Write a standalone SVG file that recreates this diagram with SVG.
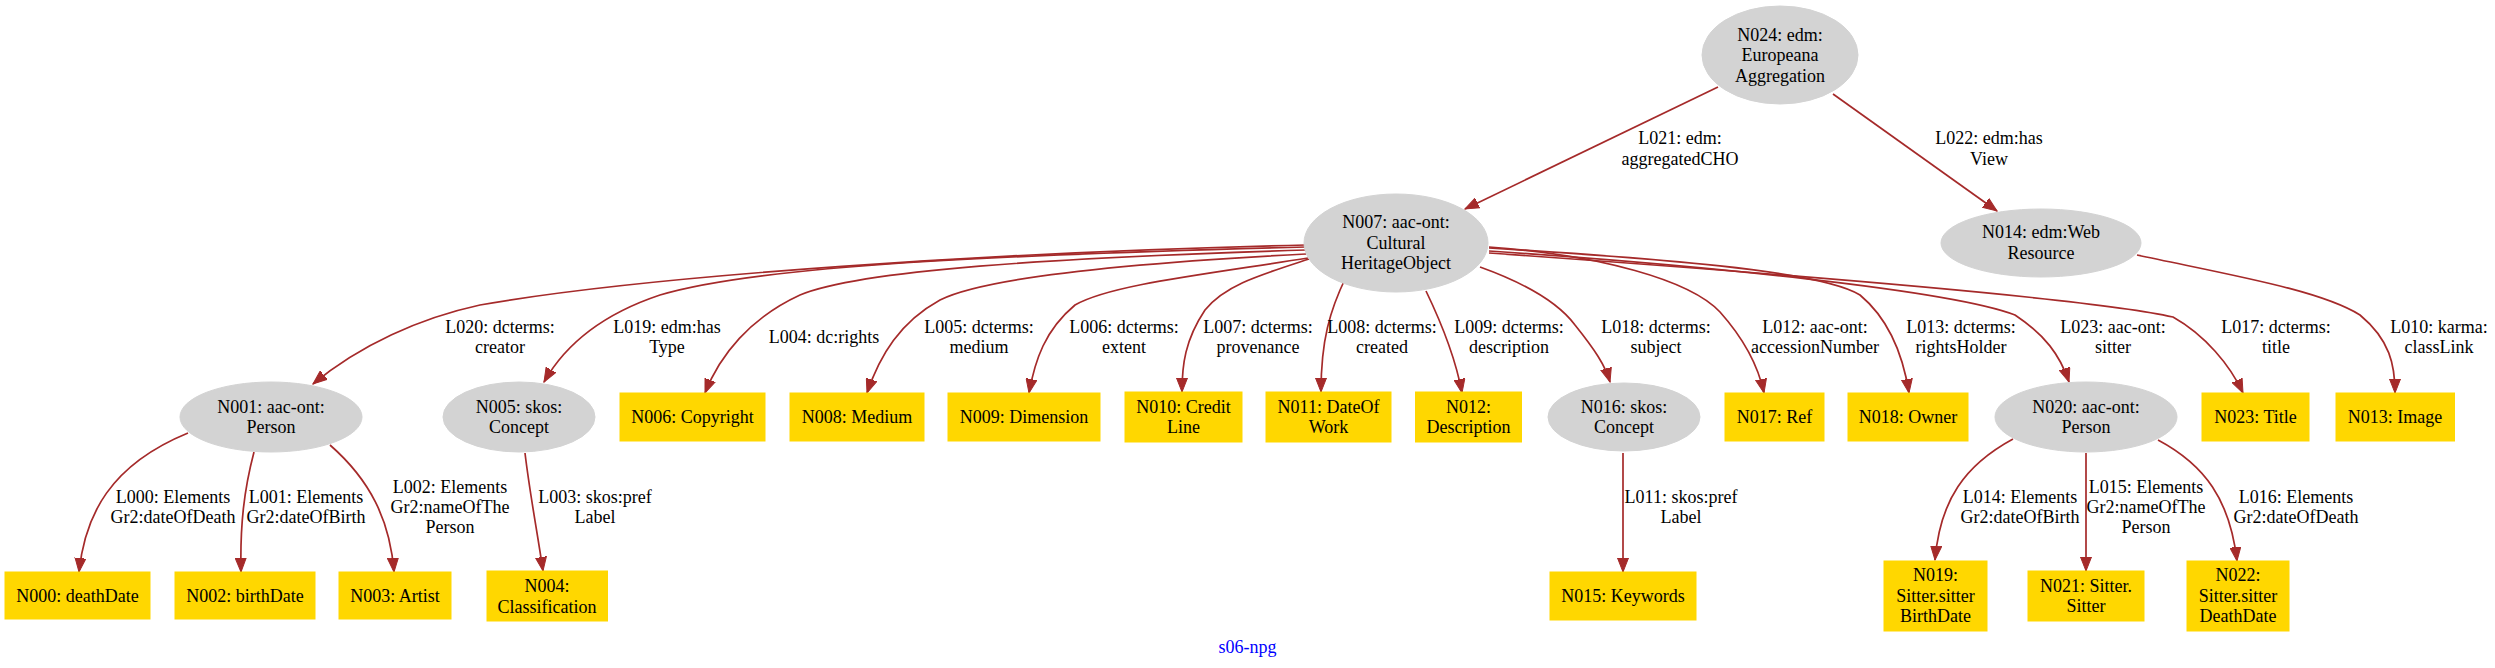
<svg xmlns="http://www.w3.org/2000/svg" width="2495" height="668" viewBox="0 0 2495 668">
<style>
text{font-family:"Liberation Serif","Times New Roman",serif;font-size:18px;fill:#000;text-anchor:middle}
.ell{fill:#d3d3d3;stroke:#d3d3d3}
.box{fill:#ffd700;stroke:#ffd700}
.e{fill:none;stroke:#a52a2a;stroke-width:1.7;marker-end:url(#arr)}
.cap{fill:#0000ff}
</style>
<defs>
<marker id="arr" markerUnits="userSpaceOnUse" markerWidth="15" markerHeight="12" refX="14" refY="6" orient="auto">
<path d="M0,0.5 L14,6 L0,11.5 z" fill="#a52a2a" stroke="#a52a2a" stroke-width="1"/>
</marker>
</defs>
<rect width="2495" height="668" fill="#fff"/>
<g id="connectors">
<path class="e" d="M1718,87 L1465,209"/>
<path class="e" d="M1833,94 L1997,211"/>
<path class="e" d="M1306,245 C1000,252 650,275 480,305 C420,318 360,345 313,384"/>
<path class="e" d="M1306,247 C1000,255 760,265 660,295 C600,315 565,345 544,382"/>
<path class="e" d="M1306,250 C1050,258 860,270 800,295 C750,318 720,355 705,393"/>
<path class="e" d="M1306,254 C1150,262 990,275 940,300 C900,322 880,355 867,393"/>
<path class="e" d="M1308,258 C1200,275 1110,285 1075,305 C1045,330 1035,360 1029,393"/>
<path class="e" d="M1309,259 C1260,275 1225,285 1205,310 C1185,340 1182,365 1182,392"/>
<path class="e" d="M1346,277 C1330,310 1321,340 1321,392"/>
<path class="e" d="M1426,291 C1440,320 1455,355 1462,393"/>
<path class="e" d="M1480,267 C1530,285 1560,305 1575,325 C1595,350 1605,365 1610,382"/>
<path class="e" d="M1489,247 C1600,255 1690,280 1720,312 C1745,340 1758,365 1764,393"/>
<path class="e" d="M1489,248 C1650,258 1820,270 1860,295 C1890,320 1903,355 1909,393"/>
<path class="e" d="M1489,251 C1700,265 1950,290 2015,315 C2045,335 2060,355 2069,382"/>
<path class="e" d="M1489,253 C1800,275 2100,300 2173,317 C2205,335 2230,365 2243,393"/>
<path class="e" d="M2137,255 C2230,275 2320,290 2360,315 C2390,340 2395,365 2395,393"/>
<path class="e" d="M188,433 C110,465 85,515 79,572"/>
<path class="e" d="M254,452 C244,490 240,525 241,572"/>
<path class="e" d="M330,445 C370,480 390,520 394,572"/>
<path class="e" d="M525,453 C530,495 537,530 543,571"/>
<path class="e" d="M1623,453 L1623,572"/>
<path class="e" d="M2013,439 C1965,465 1940,500 1935,560"/>
<path class="e" d="M2086,453 L2086,571"/>
<path class="e" d="M2158,440 C2205,465 2230,500 2237,561"/>
<text x="1680" y="144">L021: edm:</text><text x="1680" y="165">aggregatedCHO</text>
<text x="1989" y="144">L022: edm:has</text><text x="1989" y="165">View</text>
<text x="500" y="333">L020: dcterms:</text><text x="500" y="353">creator</text>
<text x="667" y="333">L019: edm:has</text><text x="667" y="353">Type</text>
<text x="824" y="343">L004: dc:rights</text>
<text x="979" y="333">L005: dcterms:</text><text x="979" y="353">medium</text>
<text x="1124" y="333">L006: dcterms:</text><text x="1124" y="353">extent</text>
<text x="1258" y="333">L007: dcterms:</text><text x="1258" y="353">provenance</text>
<text x="1382" y="333">L008: dcterms:</text><text x="1382" y="353">created</text>
<text x="1509" y="333">L009: dcterms:</text><text x="1509" y="353">description</text>
<text x="1656" y="333">L018: dcterms:</text><text x="1656" y="353">subject</text>
<text x="1815" y="333">L012: aac-ont:</text><text x="1815" y="353">accessionNumber</text>
<text x="1961" y="333">L013: dcterms:</text><text x="1961" y="353">rightsHolder</text>
<text x="2113" y="333">L023: aac-ont:</text><text x="2113" y="353">sitter</text>
<text x="2276" y="333">L017: dcterms:</text><text x="2276" y="353">title</text>
<text x="2439" y="333">L010: karma:</text><text x="2439" y="353">classLink</text>
<text x="173" y="503">L000: Elements</text><text x="173" y="523">Gr2:dateOfDeath</text>
<text x="306" y="503">L001: Elements</text><text x="306" y="523">Gr2:dateOfBirth</text>
<text x="450" y="493">L002: Elements</text><text x="450" y="513">Gr2:nameOfThe</text><text x="450" y="533">Person</text>
<text x="595" y="503">L003: skos:pref</text><text x="595" y="523">Label</text>
<text x="1681" y="503">L011: skos:pref</text><text x="1681" y="523">Label</text>
<text x="2020" y="503">L014: Elements</text><text x="2020" y="523">Gr2:dateOfBirth</text>
<text x="2146" y="493">L015: Elements</text><text x="2146" y="513">Gr2:nameOfThe</text><text x="2146" y="533">Person</text>
<text x="2296" y="503">L016: Elements</text><text x="2296" y="523">Gr2:dateOfDeath</text>
</g>
<g id="N024"><ellipse class="ell" cx="1780" cy="55" rx="78" ry="49"/><text x="1780" y="40.5">N024: edm:</text><text x="1780" y="61">Europeana</text><text x="1780" y="81.5">Aggregation</text></g>
<g id="N007"><ellipse class="ell" cx="1396" cy="243" rx="92" ry="49"/><text x="1396" y="228">N007: aac-ont:</text><text x="1396" y="248.5">Cultural</text><text x="1396" y="269">HeritageObject</text></g>
<g id="N014"><ellipse class="ell" cx="2041" cy="243" rx="100" ry="34"/><text x="2041" y="238">N014: edm:Web</text><text x="2041" y="259">Resource</text></g>
<g id="N001"><ellipse class="ell" cx="271" cy="417" rx="91" ry="35"/><text x="271" y="413">N001: aac-ont:</text><text x="271" y="433">Person</text></g>
<g id="N005"><ellipse class="ell" cx="519" cy="417" rx="76" ry="35"/><text x="519" y="413">N005: skos:</text><text x="519" y="433">Concept</text></g>
<g id="N016"><ellipse class="ell" cx="1624" cy="417" rx="76" ry="34"/><text x="1624" y="413">N016: skos:</text><text x="1624" y="433">Concept</text></g>
<g id="N020"><ellipse class="ell" cx="2086" cy="417" rx="91" ry="35"/><text x="2086" y="413">N020: aac-ont:</text><text x="2086" y="433">Person</text></g>
<g id="N006"><rect class="box" x="620" y="393" width="145" height="48"/><text x="692.5" y="423">N006: Copyright</text></g>
<g id="N008"><rect class="box" x="790" y="393" width="134" height="48"/><text x="857" y="423">N008: Medium</text></g>
<g id="N009"><rect class="box" x="948" y="393" width="152" height="48"/><text x="1024" y="423">N009: Dimension</text></g>
<g id="N010"><rect class="box" x="1125" y="392" width="117" height="50"/><text x="1183.5" y="412.5">N010: Credit</text><text x="1183.5" y="433">Line</text></g>
<g id="N011"><rect class="box" x="1266" y="392" width="125" height="50"/><text x="1328.5" y="412.5">N011: DateOf</text><text x="1328.5" y="433">Work</text></g>
<g id="N012"><rect class="box" x="1415.5" y="392" width="106" height="50"/><text x="1468.5" y="412.5">N012:</text><text x="1468.5" y="433">Description</text></g>
<g id="N017"><rect class="box" x="1725" y="393" width="99" height="48"/><text x="1774.5" y="423">N017: Ref</text></g>
<g id="N018"><rect class="box" x="1848" y="393" width="120" height="48"/><text x="1908" y="423">N018: Owner</text></g>
<g id="N023"><rect class="box" x="2202" y="393" width="107" height="48"/><text x="2255.5" y="423">N023: Title</text></g>
<g id="N013"><rect class="box" x="2336" y="393" width="118.5" height="48"/><text x="2395" y="423">N013: Image</text></g>
<g id="N000"><rect class="box" x="5" y="572" width="145" height="47"/><text x="77.5" y="602">N000: deathDate</text></g>
<g id="N002"><rect class="box" x="175" y="572" width="140" height="47"/><text x="245" y="602">N002: birthDate</text></g>
<g id="N003"><rect class="box" x="339" y="572" width="112" height="47"/><text x="395" y="602">N003: Artist</text></g>
<g id="N004"><rect class="box" x="487" y="571" width="120.5" height="50"/><text x="547" y="592">N004:</text><text x="547" y="612.5">Classification</text></g>
<g id="N015"><rect class="box" x="1550" y="572" width="146" height="48"/><text x="1623" y="602">N015: Keywords</text></g>
<g id="N019"><rect class="box" x="1884" y="561" width="103" height="70"/><text x="1935.5" y="581">N019:</text><text x="1935.5" y="601.5">Sitter.sitter</text><text x="1935.5" y="622">BirthDate</text></g>
<g id="N021"><rect class="box" x="2028" y="571" width="116" height="50"/><text x="2086" y="591.5">N021: Sitter.</text><text x="2086" y="612">Sitter</text></g>
<g id="N022"><rect class="box" x="2187" y="561" width="102" height="70"/><text x="2238" y="581">N022:</text><text x="2238" y="601.5">Sitter.sitter</text><text x="2238" y="622">DeathDate</text></g>
<text class="cap" x="1247.5" y="653">s06-npg</text>
</svg>
